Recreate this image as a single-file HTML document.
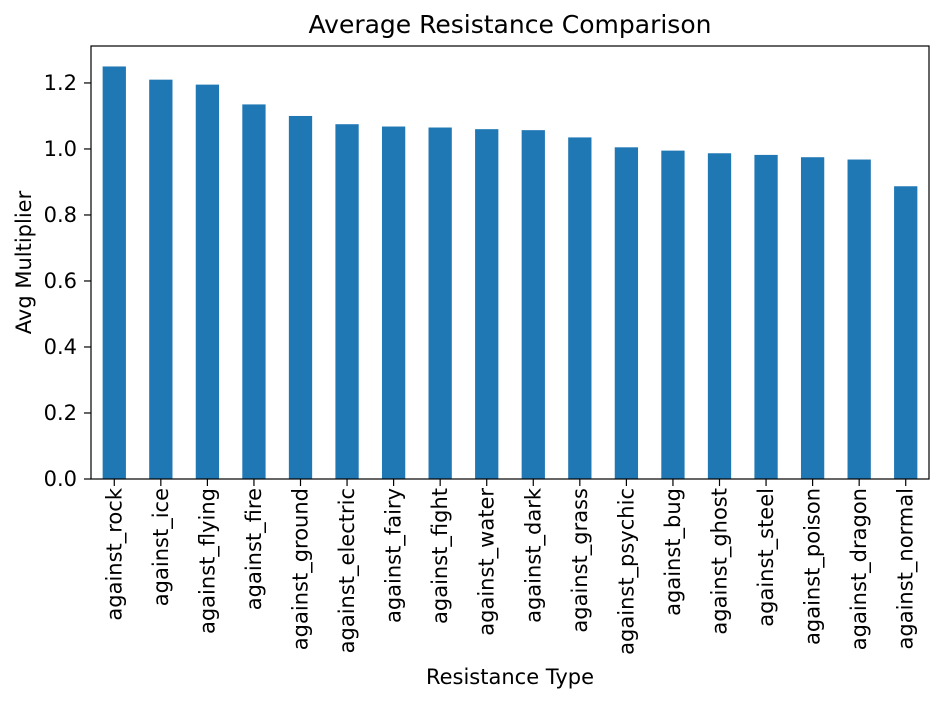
<!DOCTYPE html>
<html><head><meta charset="utf-8"><style>
body{margin:0;background:#fff;}
svg{display:block;font-family:"DejaVu Sans","Liberation Sans",sans-serif;}
</style></head><body>
<svg id="chart" width="944" height="702"></svg>
<script>
const categories=["against_rock","against_ice","against_flying","against_fire","against_ground","against_electric","against_fairy","against_fight","against_water","against_dark","against_grass","against_psychic","against_bug","against_ghost","against_steel","against_poison","against_dragon","against_normal"];
const values=[1.25,1.21,1.195,1.135,1.10,1.075,1.068,1.065,1.06,1.057,1.035,1.005,0.995,0.987,0.982,0.975,0.968,0.887];
const yTicks=[0,0.2,0.4,0.6,0.8,1.0,1.2];
const yTickLabels=["0.0","0.2","0.4","0.6","0.8","1.0","1.2"];

const NS="http://www.w3.org/2000/svg";
const svg=document.getElementById('chart');
const L=91,R=929,T=46,B=479,yMax=1.312;
const y=v=>B-(v/yMax)*(B-T);
const step=(R-L)/categories.length;
const x=i=>L+step*(i+0.5);
function mk(tag,attrs,text){const e=document.createElementNS(NS,tag);for(const k in attrs)e.setAttribute(k,attrs[k]);if(text!==undefined)e.textContent=text;svg.appendChild(e);return e;}

categories.forEach((c,i)=>{
  const r=mk('rect',{x:x(i)-step*0.25,y:y(values[i]),width:step*0.5,height:B-y(values[i]),fill:'#1f77b4'});
  
  
  const t=mk('line',{x1:x(i),x2:x(i),y1:B,y2:B+7,stroke:'#000','stroke-width':1.2});
  
  
  const lb=mk('text',{transform:`translate(${x(i)+7},${B+9}) rotate(-90)`,'text-anchor':'end','font-size':21,fill:'#000'},c);
  
  
});
yTicks.forEach((v,i)=>{
  const t=mk('line',{x1:L-7,x2:L,y1:y(v),y2:y(v),stroke:'#000','stroke-width':1.2});
  
  
  const lb=mk('text',{x:L-14,y:y(v)+7,'text-anchor':'end','font-size':21,fill:'#000'},yTickLabels[i]);
  
  
});
const fr=mk('rect',{x:L,y:T,width:R-L,height:B-T,fill:'none',stroke:'#000','stroke-width':1.2});


const ti=mk('text',{x:(L+R)/2,y:33,'text-anchor':'middle','font-size':25},'Average Resistance Comparison');


const xt=mk('text',{x:(L+R)/2,y:684,'text-anchor':'middle','font-size':21},'Resistance Type');


const yt=mk('text',{transform:`translate(31,${(T+B)/2}) rotate(-90)`,'text-anchor':'middle','font-size':21},'Avg Multiplier');


</script>
</body></html>
